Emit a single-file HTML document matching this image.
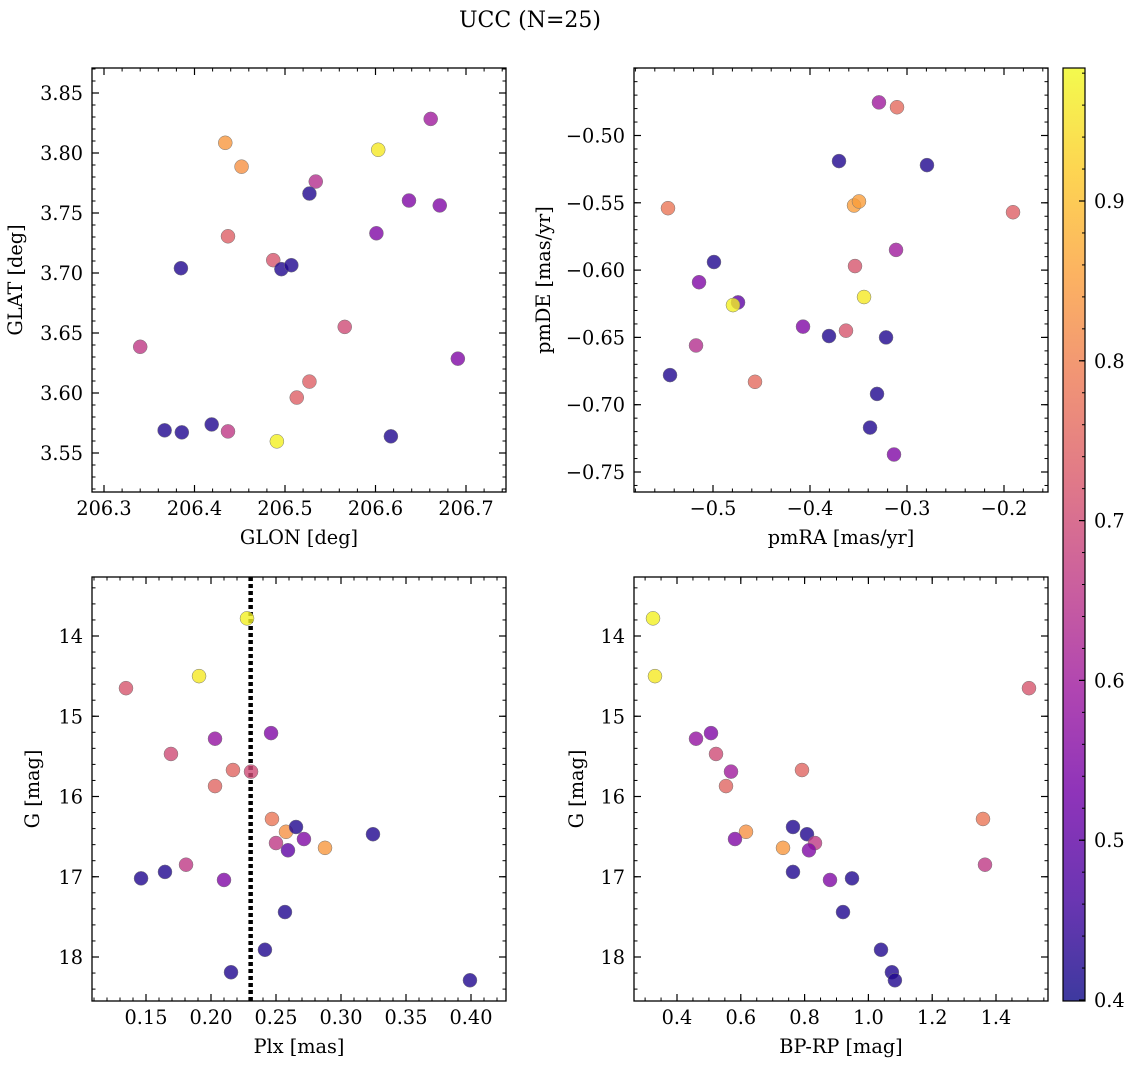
<!DOCTYPE html>
<html><head><meta charset="utf-8"><style>
html,body{margin:0;padding:0;background:#fff;}
svg{display:block;font-family:"DejaVu Serif","Liberation Serif",serif;}
</style></head><body>
<svg id="fig" width="1136" height="1068" viewBox="0 0 1136 1068" xmlns="http://www.w3.org/2000/svg">
<defs><linearGradient id="cmap" x1="0" y1="1" x2="0" y2="0">
<stop offset="0" stop-color="#0d0887"/><stop offset="0.111" stop-color="#46039f"/><stop offset="0.222" stop-color="#7201a8"/><stop offset="0.333" stop-color="#9c179e"/><stop offset="0.444" stop-color="#bd3786"/><stop offset="0.556" stop-color="#d8576b"/><stop offset="0.667" stop-color="#ed7953"/><stop offset="0.778" stop-color="#fb9f3a"/><stop offset="0.889" stop-color="#fdca26"/><stop offset="1" stop-color="#f0f921"/>
</linearGradient></defs>
<text x="530" y="27" font-size="22" text-anchor="middle">UCC (N=25)</text>
</svg>
<script>
// ---- data ----
const prob=[0.84,0.83,0.74,0.96,0.6,0.64,0.42,0.55,0.55,0.55,0.42,0.72,0.42,0.42,0.7,0.66,0.55,0.74,0.74,0.42,0.42,0.42,0.66,0.97,0.42];
const glon=[206.434,206.452,206.437,206.603,206.661,206.534,206.527,206.637,206.671,206.601,206.385,206.487,206.496,206.507,206.566,206.340,206.691,206.527,206.513,206.367,206.386,206.419,206.437,206.491,206.617];
const glat=[3.8085,3.7886,3.7306,3.8027,3.8284,3.7762,3.7662,3.7604,3.7563,3.7331,3.704,3.7107,3.7032,3.7065,3.6551,3.6385,3.6286,3.6095,3.5962,3.5689,3.5672,3.5738,3.568,3.5597,3.5639];
const prob2=[0.6,0.76,0.42,0.42,0.78,0.85,0.85,0.74,0.42,0.6,0.72,0.55,0.96,0.5,0.97,0.55,0.72,0.42,0.42,0.64,0.42,0.76,0.42,0.42,0.55];
const pmra=[-0.3289,-0.3103,-0.3701,-0.2794,-0.5464,-0.3546,-0.3495,-0.1907,-0.499,-0.3113,-0.3536,-0.5144,-0.3443,-0.4742,-0.4794,-0.4072,-0.3629,-0.3804,-0.3216,-0.5175,-0.5443,-0.4567,-0.3309,-0.3381,-0.3134];
const pmde=[-0.4754,-0.479,-0.519,-0.522,-0.554,-0.552,-0.549,-0.557,-0.594,-0.585,-0.597,-0.609,-0.620,-0.624,-0.626,-0.642,-0.645,-0.649,-0.650,-0.656,-0.678,-0.683,-0.692,-0.717,-0.737];
const prob3=[0.97,0.96,0.72,0.55,0.58,0.7,0.75,0.7,0.75,0.78,0.83,0.42,0.42,0.55,0.66,0.5,0.84,0.66,0.42,0.42,0.55,0.42,0.42,0.42,0.42];
const plx=[0.2277,0.1908,0.1346,0.2462,0.2031,0.1692,0.2169,0.2308,0.2031,0.2469,0.2577,0.3246,0.2654,0.2715,0.25,0.2592,0.2877,0.1808,0.1646,0.1462,0.21,0.2569,0.2415,0.2154,0.3992];
const gmag=[13.78,14.50,14.65,15.21,15.28,15.47,15.67,15.69,15.87,16.28,16.44,16.47,16.38,16.53,16.58,16.67,16.64,16.85,16.94,17.02,17.04,17.44,17.91,18.19,18.29];
const prob4=[0.97,0.96,0.72,0.55,0.58,0.7,0.75,0.6,0.75,0.78,0.83,0.42,0.42,0.55,0.66,0.55,0.84,0.66,0.42,0.42,0.55,0.42,0.42,0.42,0.42];
const bprp=[0.3248,0.331,1.5034,0.5066,0.4596,0.5223,0.7918,0.5693,0.5536,1.3592,0.6163,0.8075,0.7636,0.5818,0.8326,0.8138,0.7323,1.3655,0.7636,0.9486,0.8796,0.9204,1.0395,1.0737,1.0831];
const plxCut=0.2305;
const ticksGlon=[206.3,206.4,206.5,206.6,206.7];
const ticksGlat=[3.55,3.60,3.65,3.70,3.75,3.80,3.85];
const ticksPmra=[-0.5,-0.4,-0.3,-0.2];
const ticksPmde=[-0.75,-0.70,-0.65,-0.60,-0.55,-0.50];
const ticksPlx=[0.15,0.20,0.25,0.30,0.35,0.40];
const ticksG=[14,15,16,17,18];
const ticksBprp=[0.4,0.6,0.8,1.0,1.2,1.4];
const ticksCbar=[0.4,0.5,0.6,0.7,0.8,0.9];

const NS="http://www.w3.org/2000/svg";
const svg=document.getElementById('fig');
function mk(tag,at,parent){const e=document.createElementNS(NS,tag);for(const k in at)e.setAttribute(k,at[k]);(parent||svg).appendChild(e);return e;}
const stops=[[0,[13,8,135]],[0.111,[70,3,159]],[0.222,[114,1,168]],[0.333,[156,23,158]],[0.444,[189,55,134]],[0.556,[216,87,107]],[0.667,[237,121,83]],[0.778,[251,159,58]],[0.889,[253,202,38]],[1,[240,249,33]]];
const cmin=0.4,cmax=0.9825;
function cmap(v){let t=(v-cmin)/(cmax-cmin);t=Math.max(0,Math.min(1,t));for(let i=1;i<stops.length;i++){if(t<=stops[i][0]){const a=stops[i-1],b=stops[i];const f=(t-a[0])/(b[0]-a[0]);const c=a[1].map((x,j)=>Math.round(x+(b[1][j]-x)*f));return `rgb(${c})`;}}return 'rgb(240,249,33)';}
function lin(v1,p1,v2,p2){return v=>p1+(v-v1)*(p2-p1)/(v2-v1);}
function inv(v1,p1,v2,p2){return p=>v1+(p-p1)*(v2-v1)/(p2-p1);}
function fmt(v,d){return v.toFixed(d).replace('-','−');}
const FS=19.3;

function panel(o){
  const g=mk('g',{});
  
  
  const X=lin(...o.xa),Y=lin(...o.ya);
  const xi=inv(...o.xa),yi=inv(...o.ya);
  const xlo=xi(o.x0),xhi=xi(o.x1);
  for(let k=Math.ceil(Math.min(xlo,xhi)/o.xm-1e-6);k*o.xm<=Math.max(xlo,xhi)+1e-9;k++){const px=X(k*o.xm);
    mk('line',{x1:px,x2:px,y1:o.y1,y2:o.y1-3.5,stroke:'#000','stroke-width':1},g);mk('line',{x1:px,x2:px,y1:o.y0,y2:o.y0+3.5,stroke:'#000','stroke-width':1},g);}
  const ya=yi(o.y0),yb=yi(o.y1);
  for(let k=Math.ceil(Math.min(ya,yb)/o.ym-1e-6);k*o.ym<=Math.max(ya,yb)+1e-9;k++){const py=Y(k*o.ym);
    mk('line',{x1:o.x0,x2:o.x0+3.5,y1:py,y2:py,stroke:'#000','stroke-width':1},g);mk('line',{x1:o.x1,x2:o.x1-3.5,y1:py,y2:py,stroke:'#000','stroke-width':1},g);}
  o.xt.forEach(v=>{const px=X(v);
    mk('line',{x1:px,x2:px,y1:o.y1,y2:o.y1-7,stroke:'#000','stroke-width':1.2},g);mk('line',{x1:px,x2:px,y1:o.y0,y2:o.y0+7,stroke:'#000','stroke-width':1.2},g);
    const t=mk('text',{x:px,y:o.y1+23,'font-size':FS,'text-anchor':'middle'},g);t.textContent=fmt(v,o.xd);
    
    });
  o.yt.forEach(v=>{const py=Y(v);
    mk('line',{x1:o.x0,x2:o.x0+7,y1:py,y2:py,stroke:'#000','stroke-width':1.2},g);mk('line',{x1:o.x1,x2:o.x1-7,y1:py,y2:py,stroke:'#000','stroke-width':1.2},g);
    const t=mk('text',{x:o.x0-9,y:py+7,'font-size':FS,'text-anchor':'end'},g);t.textContent=fmt(v,o.yd);
    
    });
  if(o.vline!==undefined){const px=X(o.vline);const l=mk('line',{x1:px,x2:px,y1:o.y0,y2:o.y1,stroke:'#000','stroke-width':4.5,'stroke-dasharray':'4 3'},g);
    
    }
  o.xs.forEach((v,i)=>{const c=mk('circle',{cx:X(v),cy:Y(o.ys[i]),r:7,fill:cmap(o.cs[i]),'fill-opacity':0.8,stroke:'#777','stroke-width':0.5},g);
    
    });
  mk('rect',{x:o.x0,y:o.y0,width:o.x1-o.x0,height:o.y1-o.y0,fill:'none',stroke:'#000','stroke-width':1.3},g);
  const xl=mk('text',{x:(o.x0+o.x1)/2,y:o.y1+52,'font-size':FS,'text-anchor':'middle'},g);xl.textContent=o.xlab;
  
  
  const cy=(o.y0+o.y1)/2;const yl=mk('text',{x:o.ylx,y:cy,'font-size':FS,'text-anchor':'middle',transform:`rotate(-90 ${o.ylx} ${cy})`},g);yl.textContent=o.ylab;
  
  
}
panel({name:'glon-glat-panel',x0:92,x1:506,y0:68,y1:492,xa:[206.3,104,206.7,466],ya:[3.85,93,3.55,453],xm:0.02,ym:0.01,xt:ticksGlon,yt:ticksGlat,xd:1,yd:2,xs:glon,ys:glat,cs:prob,xlab:'GLON [deg]',ylab:'GLAT [deg]',ylx:22});
panel({name:'pm-panel',x0:634,x1:1048,y0:68,y1:492,xa:[-0.5,713,-0.2,1004],ya:[-0.5,135.5,-0.75,472],xm:0.02,ym:0.01,xt:ticksPmra,yt:ticksPmde,xd:1,yd:2,xs:pmra,ys:pmde,cs:prob2,xlab:'pmRA [mas/yr]',ylab:'pmDE [mas/yr]',ylx:550});
panel({name:'plx-g-panel',x0:92,x1:506,y0:577,y1:1001,xa:[0.15,146,0.40,471],ya:[14,636,18,957],xm:0.01,ym:0.2,xt:ticksPlx,yt:ticksG,xd:2,yd:0,xs:plx,ys:gmag,cs:prob3,xlab:'Plx [mas]',ylab:'G [mag]',ylx:39,vline:plxCut});
panel({name:'cmd-panel',x0:634,x1:1048,y0:577,y1:1001,xa:[0.4,677,1.4,996],ya:[14,636,18,957],xm:0.05,ym:0.2,xt:ticksBprp,yt:ticksG,xd:1,yd:0,xs:bprp,ys:gmag,cs:prob4,xlab:'BP-RP [mag]',ylab:'G [mag]',ylx:583});
// colorbar
const cb=mk('g',{});


const CY=lin(0.4,1000,0.9,201);
mk('rect',{x:1063,y:68,width:22,height:933,fill:'url(#cmap)','fill-opacity':0.8},cb);
for(let k=20;k<=49;k++){const py=CY(k*0.02);if(py<68||py>1001)continue;mk('line',{x1:1085,x2:1082,y1:py,y2:py,stroke:'#000'},cb);}
ticksCbar.forEach(v=>{const py=CY(v);mk('line',{x1:1085,x2:1079,y1:py,y2:py,stroke:'#000','stroke-width':1.2},cb);
  const t=mk('text',{x:1094,y:py+7,'font-size':FS},cb);t.textContent=v.toFixed(1);
  
  });
mk('rect',{x:1063,y:68,width:22,height:933,fill:'none',stroke:'#000','stroke-width':1.2},cb);
</script>
</body></html>
